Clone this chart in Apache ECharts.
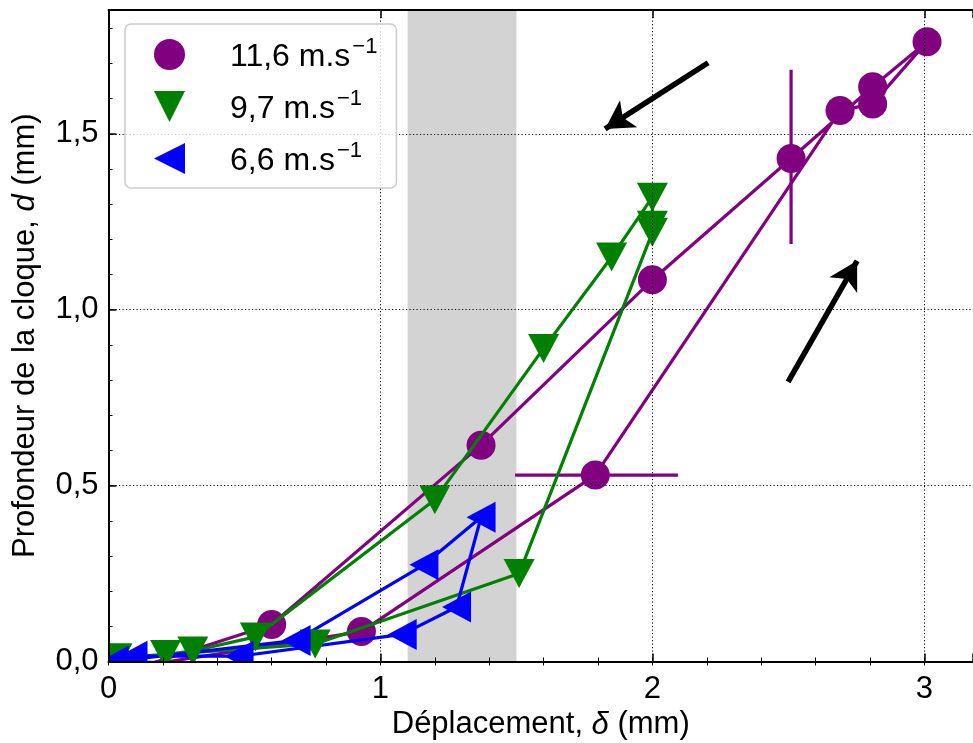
<!DOCTYPE html>
<html>
<head>
<meta charset="utf-8">
<script src="https://cdn.jsdelivr.net/npm/echarts@6/dist/echarts.min.js"></script>
<style>
html,body{margin:0;padding:0;background:#fff;}
#chart{width:973px;height:743px;}
</style>
</head>
<body>
<div id="chart"></div>
<script>
// ---- Data ----
const legendNames = ['11,6 m.s', '9,7 m.s', '6,6 m.s'];
const legendSup = '\u22121';

// 11,6 m/s (purple circles), in drawing order
const purpleX = [0.00, 0.37, 0.14, 0.93, 1.79, 2.69, 2.81, 3.01, 2.81, 2.51, 2.00, 1.37, 0.60, 0.14];
const purpleY = [0.00, -0.005, -0.01, 0.085, 0.53, 1.566, 1.585, 1.762, 1.634, 1.43, 1.085, 0.615, 0.105, -0.01];

// 9,7 m/s (green down triangles)
const greenX = [0.03, 0.76, 1.51, 2.00, 2.00, 2.00, 1.85, 1.60, 1.20, 0.54, 0.31, 0.21, 0.03];
const greenY = [0.01, 0.05, 0.25, 1.22, 1.24, 1.32, 1.15, 0.89, 0.46, 0.07, 0.03, 0.02, 0.01];

// 6,6 m/s (blue left triangles)
const blueX = [0.02, 0.09, 0.48, 1.08, 1.28, 1.37, 1.16, 0.69, 0.02];
const blueY = [0.00, 0.015, 0.015, 0.077, 0.155, 0.41, 0.275, 0.06, 0.00];

// Error bars (11,6 m/s)
const errH = {x: [1.495, 2.094], y: [0.53, 0.53]};
const errV = {x: [2.51, 2.51], y: [1.187, 1.682]};

// Shaded band
const bandX = [1.10, 1.50];

// Arrows [tail, head]
const arrowDown = [[2.205, 1.702], [1.826, 1.514]];
const arrowUp = [[2.499, 0.795], [2.753, 1.139]];

// Axis limits and tick labels
const xMin = 0, xMax = 3.179, yMin = 0, yMax = 1.852;
const xTicks = [0, 1, 2, 3];
const yTicks = ['0,0', '0,5', '1,0', '1,5'];

// ---- Build ----
const FONT = 'Liberation Sans';
const FS = 31;
const zip = (xs, ys) => xs.map((x, i) => [x, ys[i]]);
const triDown = 'path://M0,0 L2,0 L1,2 Z';
const triLeft = 'path://M0,1 L2,0 L2,2 Z';

const W = 973, H = 743;
const G = {left: 108.5, top: 10, right: 0, bottom: 81.5};

const chart = echarts.init(document.getElementById('chart'), null, {renderer: 'canvas'});

const majorTick = {show: true, inside: true, length: 8, lineStyle: {color: '#000', width: 1.5}};
const minorTickAxis = {show: true, inside: true, length: 4, lineStyle: {color: '#000', width: 1}};
const dotted = {show: true, lineStyle: {color: '#000', width: 1, type: [1.2, 2.3]}};
const blackLine = {show: true, onZero: false, lineStyle: {color: '#000', width: 2}};
const richName = {n: {fontFamily: FONT, fontSize: FS, color: '#000'}, i: {fontFamily: FONT, fontSize: FS, fontStyle: 'italic', color: '#000'}};

const option = {
  animation: false,
  backgroundColor: '#fff',
  textStyle: {fontFamily: FONT},
  grid: {left: G.left, top: G.top, right: G.right, bottom: G.bottom, containLabel: false, outerBoundsMode: 'none'},
  legend: {
    orient: 'vertical',
    left: 125, top: 24,
    padding: [12, 19, 11, 29],
    itemGap: 15,
    itemWidth: 31, itemHeight: 31,
    backgroundColor: 'rgba(255,255,255,0.8)',
    borderColor: '#cccccc', borderWidth: 1.5, borderRadius: 6,
    z: 8,
    data: [
      {name: legendNames[0], icon: 'circle'},
      {name: legendNames[1], icon: triDown},
      {name: legendNames[2], icon: triLeft}
    ],
    formatter: n => '{a|' + n + '}{b|' + legendSup + '}',
    textStyle: {
      padding: [0, 0, 0, 40],
      rich: {
        a: {fontFamily: FONT, fontSize: 32, color: '#000', lineHeight: 37, verticalAlign: 'bottom'},
        b: {fontFamily: FONT, fontSize: 22, color: '#000', lineHeight: 37, verticalAlign: 'top', padding: [0, 0, 14, 2]}
      }
    }
  },
  xAxis: [{
    type: 'value', min: xMin, max: xMax, interval: 1, position: 'bottom',
    name: '{n|Déplacement, }{i|δ}{n| (mm)}',
    nameLocation: 'middle', nameGap: 47,
    nameTextStyle: {rich: richName},
    axisLine: blackLine, axisTick: majorTick, minorTick: {show: false},
    axisLabel: {fontFamily: FONT, fontSize: FS, color: '#000', margin: 12,
      formatter: v => (xTicks.indexOf(v) >= 0 ? String(v) : '')},
    splitLine: dotted, z: 5
  }, {
    type: 'value', min: xMin, max: xMax, interval: 1, position: 'top',
    axisLine: blackLine, axisTick: majorTick, axisLabel: {show: false}, splitLine: {show: false}, z: 5
  }, {
    type: 'value', min: xMin, max: xMax, interval: 0.2, position: 'bottom',
    axisLine: {show: false}, axisTick: minorTickAxis, axisLabel: {show: false}, splitLine: {show: false}, z: 5
  }, {
    type: 'value', min: xMin, max: xMax, interval: 0.2, position: 'top',
    axisLine: {show: false}, axisTick: minorTickAxis, axisLabel: {show: false}, splitLine: {show: false}, z: 5
  }],
  yAxis: [{
    type: 'value', min: yMin, max: yMax, interval: 0.5, position: 'left',
    name: '{n|Profondeur de la cloque, }{i|d}{n| (mm)}',
    nameLocation: 'middle', nameGap: 68, nameRotate: 90,
    nameTextStyle: {rich: richName},
    axisLine: blackLine, axisTick: majorTick, minorTick: {show: false},
    axisLabel: {fontFamily: FONT, fontSize: FS, color: '#000', margin: 10,
      formatter: v => { const i = Math.round(v / 0.5); return (Math.abs(v - i * 0.5) < 1e-9 && i < yTicks.length) ? yTicks[i] : ''; }},
    splitLine: dotted, z: 5
  }, {
    type: 'value', min: yMin, max: yMax, interval: 0.1, position: 'left',
    axisLine: {show: false}, axisTick: minorTickAxis, axisLabel: {show: false}, splitLine: {show: false}, z: 5
  }],
  // white masks so that markers are clipped at the plot frame (as in the reference)
  graphic: [
    {type: 'rect', z: 4.5, silent: true, shape: {x: 0, y: H - G.bottom, width: W, height: G.bottom}, style: {fill: '#fff'}},
    {type: 'rect', z: 4.5, silent: true, shape: {x: 0, y: 0, width: G.left - 0.5, height: H}, style: {fill: '#fff'}}
  ],
  series: [
    {
      name: 'band', type: 'line', data: [],
      markArea: {silent: true, itemStyle: {color: '#d3d3d3', opacity: 1}, data: [[{xAxis: bandX[0]}, {xAxis: bandX[1]}]]},
      z: 1
    },
    {
      name: legendNames[0], type: 'line', data: zip(purpleX, purpleY),
      symbol: 'circle', symbolSize: 29,
      itemStyle: {color: '#800080'}, lineStyle: {color: '#800080', width: 3.2},
      clip: true, z: 3
    },
    {
      name: 'errH', type: 'line', data: zip(errH.x, errH.y), symbol: 'none',
      lineStyle: {color: '#800080', width: 3.2}, z: 3
    },
    {
      name: 'errV', type: 'line', data: zip(errV.x, errV.y), symbol: 'none',
      lineStyle: {color: '#800080', width: 3.2}, z: 3
    },
    {
      name: legendNames[1], type: 'line', data: zip(greenX, greenY),
      symbol: triDown, symbolSize: [31, 29],
      itemStyle: {color: '#008000'}, lineStyle: {color: '#008000', width: 3.2},
      clip: true, z: 4
    },
    {
      name: legendNames[2], type: 'line', data: zip(blueX, blueY),
      symbol: triLeft, symbolSize: [29, 31],
      itemStyle: {color: '#0000ff'}, lineStyle: {color: '#0000ff', width: 3.2},
      clip: true, z: 4
    },
    {
      name: 'arrows', type: 'line', data: [], z: 6,
      markLine: {
        silent: true, symbol: ['none', 'arrow'], symbolSize: [24, 28],
        label: {show: false},
        lineStyle: {color: '#000', width: 5.5, type: 'solid'},
        data: [
          [{coord: arrowDown[0]}, {coord: arrowDown[1]}],
          [{coord: arrowUp[0]}, {coord: arrowUp[1]}]
        ]
      }
    }
  ]
};
chart.setOption(option);
</script>
</body>
</html>
